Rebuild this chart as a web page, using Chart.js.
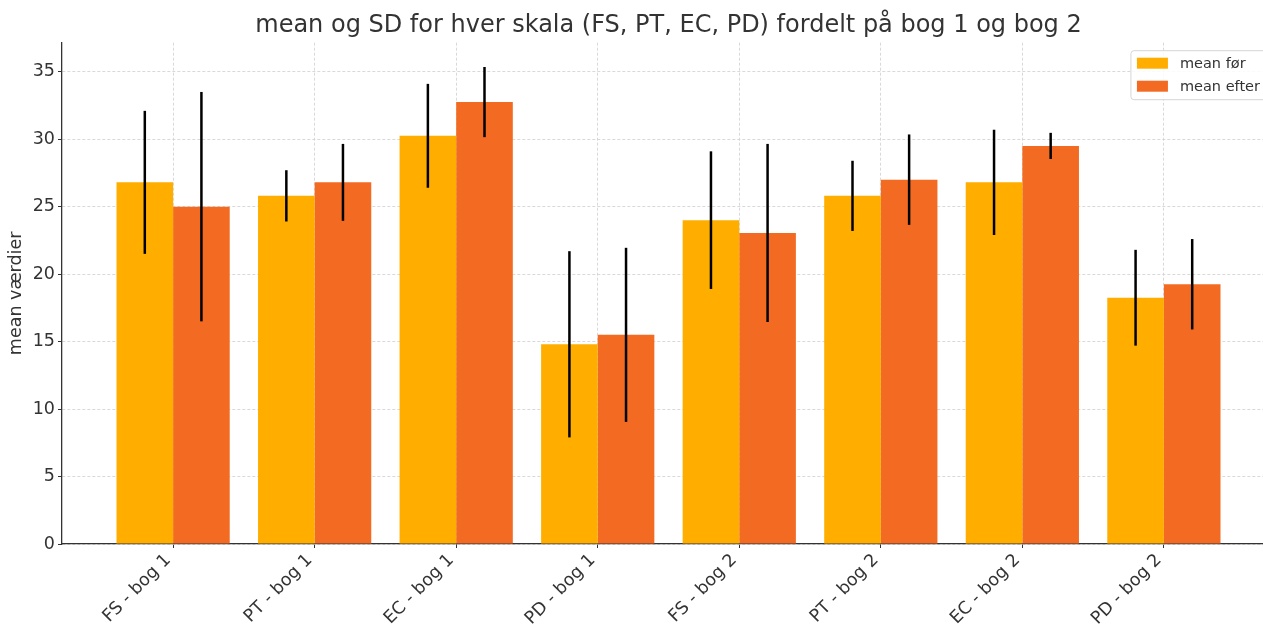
<!DOCTYPE html>
<html>
<head>
<meta charset="utf-8">
<script src="https://cdn.jsdelivr.net/npm/chart.js@4/dist/chart.umd.min.js"></script>
<style>
  body { margin: 0; background: #fff; overflow: hidden; }
  #wrap { width: 1263px; height: 624px; overflow: hidden; }
</style>
</head>
<body>
<div id="wrap"><canvas id="myChart" width="1276" height="624"></canvas></div>
<script>
const categories = ['FS - bog 1', 'PT - bog 1', 'EC - bog 1', 'PD - bog 1', 'FS - bog 2', 'PT - bog 2', 'EC - bog 2', 'PD - bog 2'];
const meanFoer = [26.8, 25.8, 30.25, 14.8, 24.0, 25.8, 26.8, 18.25];
const sdFoer = [5.3, 1.9, 3.85, 6.9, 5.1, 2.6, 3.9, 3.55];
const meanEfter = [25.0, 26.8, 32.75, 15.5, 23.05, 27.0, 29.5, 19.25];
const sdEfter = [8.5, 2.85, 2.6, 6.45, 6.6, 3.35, 0.97, 3.35];
const yTicks = [0, 5, 10, 15, 20, 25, 30, 35];

const colFoer = '#FFAE00';
const colEfter = '#F36A23';
const font = 'DejaVu Sans';
const textCol = '#333333';

// black SD lines on top of each bar
const errorBars = {
  id: 'errorBars',
  afterDatasetsDraw(chart) {
    const ctx = chart.ctx;
    const y = chart.scales.y;
    chart.data.datasets.forEach((ds, d) => {
      const meta = chart.getDatasetMeta(d);
      meta.data.forEach((bar, i) => {
        const m = ds.data[i].y;
        const s = ds.sd[i];
        ctx.save();
        ctx.strokeStyle = '#000';
        ctx.lineWidth = 2.5;
        ctx.beginPath();
        ctx.moveTo(bar.x, y.getPixelForValue(m + s));
        ctx.lineTo(bar.x, y.getPixelForValue(m - s));
        ctx.stroke();
        ctx.restore();
      });
    });
  }
};

// legend box inside the plot, upper right
const innerLegend = {
  id: 'innerLegend',
  afterDraw(chart) {
    const ctx = chart.ctx;
    const area = chart.chartArea;
    ctx.save();
    ctx.font = '14.5px "' + font + '"';
    let tw = 0;
    chart.data.datasets.forEach(ds => { tw = Math.max(tw, ctx.measureText(ds.label).width); });
    const w = 6 + 31 + 12 + tw + 8;
    const h = 49;
    const x0 = area.right - 7 - w;
    const y0 = area.top + 8;
    ctx.beginPath();
    ctx.roundRect(x0, y0, w, h, 3);
    ctx.fillStyle = 'rgba(255,255,255,0.85)';
    ctx.fill();
    ctx.strokeStyle = '#d6d6d6';
    ctx.lineWidth = 1;
    ctx.stroke();
    chart.data.datasets.forEach((ds, d) => {
      const cy = y0 + 12.5 + d * 23;
      ctx.fillStyle = ds.backgroundColor;
      ctx.fillRect(x0 + 6, cy - 5.5, 31, 11);
      ctx.fillStyle = textCol;
      ctx.textBaseline = 'middle';
      ctx.fillText(ds.label, x0 + 6 + 31 + 12, cy + 1);
    });
    ctx.restore();
  }
};

function chartShow() {
  const ctx = document.getElementById('myChart').getContext('2d');

  const initialData = {
    datasets: [{
      label: 'mean før',
      data: meanFoer.map((v, i) => ({ x: i, y: v })),
      sd: sdFoer,
      backgroundColor: colFoer,
      borderWidth: 0
    }, {
      label: 'mean efter',
      data: meanEfter.map((v, i) => ({ x: i, y: v })),
      sd: sdEfter,
      backgroundColor: colEfter,
      borderWidth: 0
    }]
  };

  const chartConfig = {
    type: 'bar',
    data: initialData,
    plugins: [errorBars, innerLegend],
    options: {
      responsive: false,
      animation: false,
      devicePixelRatio: 1,
      categoryPercentage: 0.8,
      barPercentage: 1.0,
      layout: { padding: { left: 0, right: 1, top: 0, bottom: 0 } },
      plugins: {
        legend: { display: false },
        tooltip: { enabled: false },
        title: {
          display: true,
          fullSize: false,
          text: 'mean og SD for hver skala (FS, PT, EC, PD) fordelt på bog 1 og bog 2',
          color: textCol,
          font: { family: font, size: 24, weight: 'normal' },
          padding: { top: 11.6, bottom: 2.3 }
        }
      },
      scales: {
        x: {
          type: 'linear',
          offset: false,
          min: -0.785,
          max: 7.785,
          afterBuildTicks: (scale) => { scale.ticks = categories.map((c, i) => ({ value: i })); },
          afterFit: (scale) => { scale.height = 80; },
          ticks: {
            autoSkip: false,
            minRotation: 45,
            maxRotation: 45,
            labelOffset: -5,
            color: textCol,
            font: { family: font, size: 17.5 },
            padding: 2,
            callback: (v) => categories[v]
          },
          grid: { offset: false, color: '#cfcfcf', lineWidth: 0.8, tickLength: 4, tickColor: textCol, tickWidth: 1 },
          border: { display: true, color: textCol, width: 1.3, dash: [3, 2] }
        },
        y: {
          min: 0,
          max: 37.15,
          afterBuildTicks: (scale) => { scale.ticks = yTicks.map(v => ({ value: v })); },
          afterFit: (scale) => { scale.width = 62; },
          ticks: {
            color: textCol,
            font: { family: font, size: 17.5 },
            padding: 3
          },
          grid: { color: '#cfcfcf', lineWidth: 0.8, tickLength: 4, tickColor: textCol, tickWidth: 1 },
          border: { display: true, color: textCol, width: 1.3, dash: [3, 2] },
          title: {
            display: true,
            text: 'mean værdier',
            color: textCol,
            font: { family: font, size: 17.5 },
            padding: { top: 6, bottom: 0 }
          }
        }
      }
    }
  };

  return new Chart(ctx, chartConfig);
}

const chart = chartShow();
</script>
</body>
</html>
